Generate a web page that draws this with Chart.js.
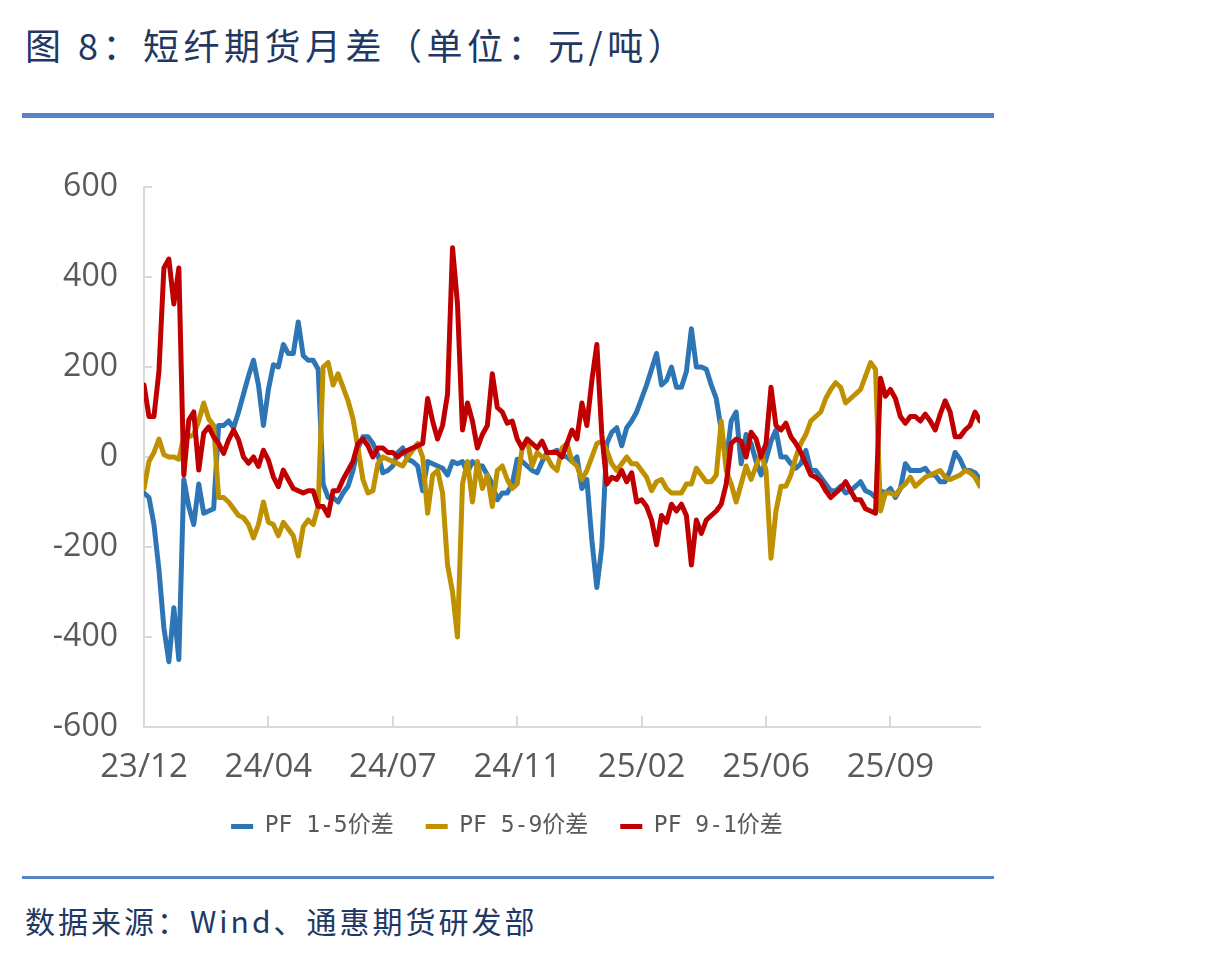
<!DOCTYPE html>
<html>
<head>
<meta charset="utf-8">
<script src="https://cdn.jsdelivr.net/npm/chart.js@4.4.0/dist/chart.umd.min.js"></script>
<style>
body { margin: 0; background: #fff; width: 1206px; height: 953px; position: relative; overflow: hidden; font-family: "Noto Sans CJK SC", sans-serif; }
#title { position: absolute; left: 25px; top: 23px; font-size: 36px; line-height: 42px; color: #1F3864; letter-spacing: 4.5px; white-space: nowrap; }
#ruleTop { position: absolute; left: 22px; top: 113px; width: 972px; height: 5px; background: #5585C5; }
#ruleBot { position: absolute; left: 22px; top: 876px; width: 972px; height: 3px; background: #5585C5; }
#source { position: absolute; left: 25px; top: 900px; font-size: 30px; line-height: 40px; color: #1F3864; letter-spacing: 3px; white-space: nowrap; }
#wrap { position: absolute; left: 0; top: 140px; width: 1000px; height: 730px; }
</style>
</head>
<body>
<div id="title">图 8：短纤期货月差（单位：元/吨）</div>
<div id="ruleTop"></div>
<div id="wrap"><canvas id="chart" width="1000" height="730"></canvas></div>
<div id="ruleBot"></div>
<div id="source">数据来源：Wind、通惠期货研发部</div>
<script>
// tick labels, one every 25 points (trading-day index)
const xLabels = ["23/12", "24/04", "24/07", "24/11", "25/02", "25/06", "25/09"];
const seriesNames = ["PF 1-5价差", "PF 5-9价差", "PF 9-1价差"];

// PF 1-5
const spread15 = [
    -80, -90, -150, -250, -380, -455, -335, -450, -50, -110, -150, -60, -125, -120, -115, 70, 70, 80, 65, 100, 140, 180, 215, 160, 70, 150, 205, 200, 250,
    230, 230, 300, 225, 215, 215, 195, -60, -90, -90, -100, -80, -65, -30, 20, 45, 45, 30, 5, -35, -30, -20, 10, 20, -5, -10, -20, -75, -10,
    -15, -20, -25, -40, -10, -15, -10, -35, -10, -20, -20, -40, -60, -95, -80, -80, -60, -5, -10, -20, -30, -35, -10, 10, 10, 15, 5, 0, -10,
    0, -70, -50, -185, -290, -200, 30, 55, 65, 25, 65, 80, 100, 130, 160, 195, 230, 160, 170, 200, 155, 155, 190, 285, 200, 200, 195, 160,
    130, 60, -10, 80, 100, -15, 50, 30, -10, -40, -5, 35, 60, 0, 0, -15, -25, -15, 15, -30, -30, -45, -60, -75, -75, -65, -80, -75, -65,
    -55, -75, -80, -90, -75, -80, -70, -90, -70, -15, -30, -30, -30, -25, -40, -40, -55, -55, -30, 10, -5, -30, -30, -35, -50
];
// PF 5-9
const spread59 = [
    -70, -10, 10, 40, 5, 0, 0, -5, 45, 45, 50, 80, 120, 85, 70, -90, -90, -100, -115, -130, -135, -150, -180, -150, -100, -145, -150, -175, -145,
    -160, -175, -220, -155, -140, -150, -110, 200, 210, 160, 185, 155, 125, 85, 20, -50, -80, -75, -15, 0, -5, -10, -15, -20, 0, 15, 30, 0, -125,
    -40, -30, -80, -240, -300, -400, -60, -10, -100, -10, -70, -40, -110, -30, -20, -50, -70, -60, 20, 40, -20, 10, 0, 0, -20, -30, 20, 30, -10,
    -20, -50, -30, 0, 30, 35, 15, -15, -30, -15, 0, -15, -15, -30, -45, -75, -55, -50, -70, -80, -80, -80, -60, -60, -25, -40, -55, -55,
    -40, 80, -30, -60, -100, -60, -20, -50, -20, 10, -30, -225, -120, -65, -65, -40, 0, 30, 50, 80, 90, 100, 130, 150, 165, 155, 120, 130, 140,
    150, 180, 210, 195, -120, -80, -80, -85, -70, -60, -45, -65, -55, -45, -40, -35, -30, -45, -50, -45, -40, -30, -35, -45, -65
];
// PF 9-1
const spread91 = [
    160, 90, 90, 190, 420, 440, 340, 420, -40, 82, 100, -29, 53, 67, 45, 30, 8, 38, 60, 38, 0, -14, 0, -21, 15, -7, -44, -66, -29,
    -50, -70, -75, -80, -75, -75, -110, -110, -130, -75, -75, -50, -30, -10, 30, 40, 25, 0, 20, 20, 10, 10, 0, 10, 15, 20, 25, 30, 130,
    80, 40, 70, 140, 465, 340, 60, 120, 80, 20, 50, 70, 185, 110, 100, 75, 80, 40, 20, 40, 30, 20, 35, 10, 10, 10, 0, 30, 60,
    40, 120, 70, 170, 250, 50, -60, -45, -50, -30, -55, -35, -100, -95, -110, -140, -195, -130, -145, -105, -120, -105, -130, -240, -140, -170, -140, -130,
    -120, -105, -60, 30, 40, 35, 0, 55, 40, 0, 30, 155, 70, 60, 75, 45, 30, 10, -15, -40, -45, -55, -75, -90, -80, -70, -55, -75, -95,
    -95, -115, -120, -125, 175, 135, 150, 130, 90, 75, 90, 90, 80, 95, 80, 60, 95, 125, 100, 45, 45, 60, 70, 100, 80
];

const colors = ["#2E75B6", "#BF9000", "#C00000"];
const labelStep = 25;
const axisGray = "#D9D9D9";
const textGray = "#595959";

function toPoints(arr) {
    return arr.map((v, i) => ({ x: i, y: v }));
}

// Excel style "inside" tick marks
const insideTicks = {
    id: "insideTicks",
    beforeDatasetsDraw(chart) {
        const ctx = chart.ctx;
        const area = chart.chartArea;
        const xs = chart.scales.x, ys = chart.scales.y;
        ctx.save();
        ctx.strokeStyle = axisGray;
        ctx.lineWidth = 2;
        ys.ticks.forEach(t => {
            const py = Math.round(ys.getPixelForValue(t.value));
            ctx.beginPath();
            ctx.moveTo(area.left, py);
            ctx.lineTo(area.left + 8, py);
            ctx.stroke();
        });
        xs.ticks.forEach(t => {
            if (t.value % labelStep !== 0 || t.value === 0) return;
            const px = Math.round(xs.getPixelForValue(t.value));
            ctx.beginPath();
            ctx.moveTo(px, area.bottom);
            ctx.lineTo(px, area.bottom - 11);
            ctx.stroke();
        });
        ctx.restore();
    }
};

const data = [spread15, spread59, spread91];
const ctx = document.getElementById("chart");
new Chart(ctx, {
    type: "line",
    data: {
        datasets: data.map((arr, i) => ({
            label: seriesNames[i],
            data: toPoints(arr),
            borderColor: colors[i],
            backgroundColor: colors[i],
            borderWidth: 5,
            pointRadius: 0,
            tension: 0,
            borderJoinStyle: "round",
            borderCapStyle: "round",
            order: 3 - i
        }))
    },
    options: {
        responsive: false,
        animation: false,
        devicePixelRatio: 1,
        layout: { padding: { top: 47, left: 34, right: 20, bottom: 22 } },
        plugins: {
            tooltip: { enabled: false },
            legend: {
                position: "bottom",
                labels: {
                    boxWidth: 22,
                    boxHeight: 5,
                    padding: 32,
                    color: textGray,
                    font: { family: "\"DejaVu Sans Mono\", \"Noto Sans CJK SC\", monospace", size: 23 },
                    sort: (a, b) => a.datasetIndex - b.datasetIndex,
                    generateLabels(chart) {
                        const items = Chart.defaults.plugins.legend.labels.generateLabels(chart);
                        items.forEach(it => { it.lineWidth = 0; });
                        return items;
                    }
                }
            }
        },
        scales: {
            x: {
                type: "linear",
                min: 0,
                max: spread15.length - 1,
                grid: { drawOnChartArea: false, drawTicks: false },
                border: { display: true, color: axisGray, width: 2 },
                ticks: {
                    stepSize: labelStep,
                    includeBounds: false,
                    autoSkip: false,
                    maxRotation: 0,
                    padding: 21,
                    color: textGray,
                    font: { family: "\"Open Sans\", sans-serif", size: 33 },
                    callback: v => (v % labelStep === 0 ? xLabels[v / labelStep] : "")
                },
                afterFit(s) { s.height = 56; }
            },
            y: {
                min: -600,
                max: 600,
                grid: { drawOnChartArea: false, drawTicks: false },
                border: { display: true, color: axisGray, width: 2 },
                ticks: {
                    stepSize: 200,
                    padding: 26,
                    color: textGray,
                    font: { family: "\"Open Sans\", sans-serif", size: 32 }
                },
                afterFit(s) { s.width = 110; }
            }
        }
    },
    plugins: [insideTicks]
});
</script>
</body>
</html>
